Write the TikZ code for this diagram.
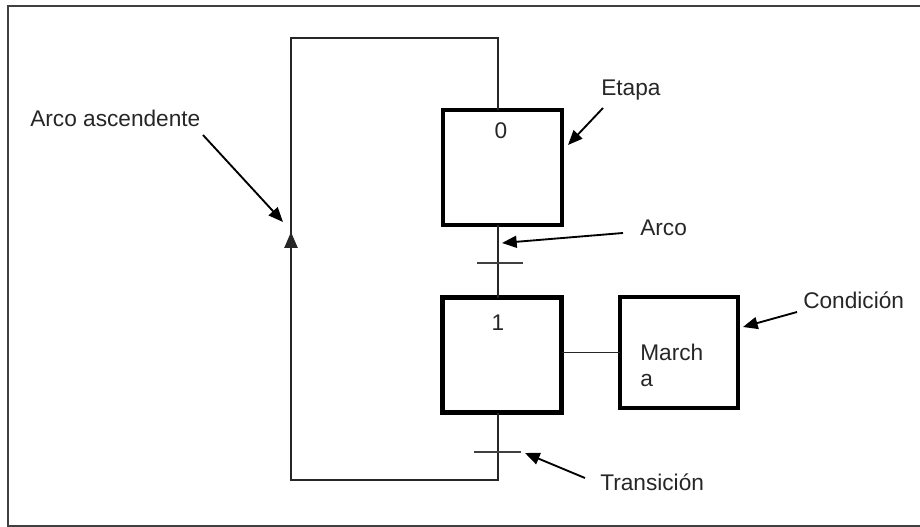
\documentclass[tikz,border=0pt]{standalone}
\usepackage{fontspec}
\setmainfont{Liberation Sans}
\usetikzlibrary{arrows.meta}
\begin{document}
\begin{tikzpicture}[x=0.75pt,y=-0.75pt,
  stepbox/.style={draw=black,line width=3.6pt,minimum width=89.25pt,minimum height=86.25pt,inner sep=0pt,outer sep=0pt},
  condbox/.style={draw=black,line width=3.6pt,minimum width=88.5pt,minimum height=83.25pt,inner sep=0pt,outer sep=0pt},
  thinline/.style={line width=1.1pt,draw=black!85},
  bar/.style={line width=1.6pt,draw=black!75},
  lbl/.style={font=\fontsize{17}{20}\selectfont,text=black!85,inner sep=0pt,anchor=west},
  pointer/.style={line width=1.4pt,draw=black,-{Triangle[length=11pt,width=9pt]}},
  frame/.style={line width=1.5pt,draw=black!75}]
\useasboundingbox (0,0) rectangle (920,527);
% frame
\draw[frame] (920,6) -- (8,6) -- (8,526) -- (920,526);
% boxes
\node[stepbox] (s0) at (502.5,167.5) {};
\node[stepbox] (s1) at (502,355) {};
\node[condbox] (c) at (679,352.5) {};
% step numbers and condition text
\node[lbl,anchor=center] (n0) at (501,131) {0};
\node[lbl,anchor=center] (n1) at (498,323) {1};
\node[lbl] (m1) at (640,352) {March};
\node[lbl] (m2) at (640,381) {a};
% loop coordinates
\coordinate (tr) at (498,38);
\coordinate (tl) at (291,38);
\coordinate (bl) at (291,480);
\coordinate (br) at (498,480);
\coordinate (up) at (291,232);
% main arcs
\draw[thinline] (tr |- s0.north) -- (tr) -- (tl) -- (bl) -- (br) -- (br |- s1.south);
\draw[line width=1.1pt,draw=black!85,-{Triangle[length=12pt,width=10pt]}] (bl) -- (up);
\draw[thinline] (tr |- s0.south) -- (tr |- s1.north);
\draw[thinline] (s1.east |- c.west) -- (c.west);
% transitions
\coordinate (t1) at (498,263);
\coordinate (t2) at (498,452);
\draw[bar] ([xshift=-15.75pt]t1) -- ([xshift=18.75pt]t1);
\draw[bar] ([xshift=-18pt]t2) -- ([xshift=17.25pt]t2);
% labels
\node[lbl] (la) at (30,118) {Arco ascendente};
\node[lbl] (le) at (601,90) {Etapa};
\node[lbl] (lar) at (640,228) {Arco};
\node[lbl] (lc) at (803,300) {Condición};
\node[lbl] (lt) at (600,482) {Transición};
% pointers
\coordinate (pa) at (283,222);
\coordinate (pe) at (568,145);
\coordinate (par) at (502,243);
\coordinate (pc) at (743,327);
\coordinate (pt) at (525,453);
\draw[pointer] (203,135) -- (pa);
\draw[pointer] (603,108) -- (pe);
\draw[pointer] (623,233) -- (par);
\draw[pointer] (797,312) -- (pc);
\draw[pointer] (585,478) -- (pt);
\end{tikzpicture}
\end{document}
